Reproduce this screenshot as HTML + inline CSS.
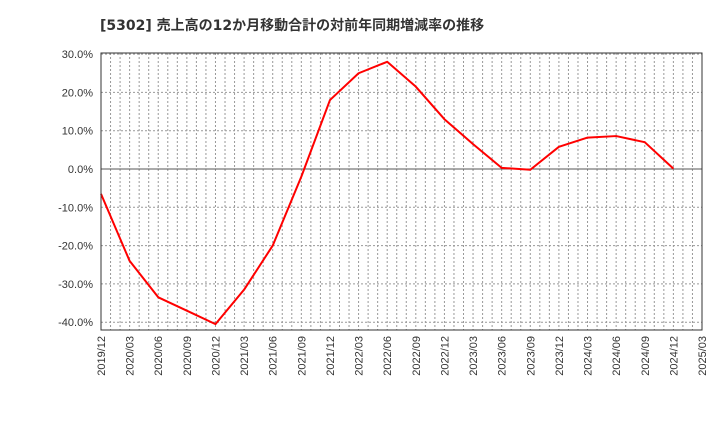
<!DOCTYPE html>
<html><head><meta charset="utf-8"><style>
body{margin:0;background:#fff;font-family:"Liberation Sans","Noto Sans CJK JP",sans-serif}
</style></head><body>
<svg width="720" height="440" xmlns="http://www.w3.org/2000/svg">
<text x="100" y="30" font-size="14" font-weight="bold" fill="#333" font-family="DejaVu Sans, Noto Sans CJK JP, sans-serif">[5302]  売上高の12か月移動合計の対前年同期増減率の推移</text>
<g id="grid"></g>
<g id="yt"></g>
<g id="xt"></g>
<polyline id="line" fill="none" stroke="#ff0000" stroke-width="2" stroke-linejoin="round"/>
<rect x="101" y="53" width="601" height="277" fill="none" stroke="#333"/>
</svg>
<script>
const categories=["2019/12","2020/03","2020/06","2020/09","2020/12","2021/03","2021/06","2021/09","2021/12","2022/03","2022/06","2022/09","2022/12","2023/03","2023/06","2023/09","2023/12","2024/03","2024/06","2024/09","2024/12"];
const values=[-6.5,-24,-33.5,-37,-40.5,-31.5,-20,-2,18,25,28,21.5,13,6.5,0.3,-0.2,5.8,8.2,8.6,7,0.1];
const yTicks=[30,20,10,0,-10,-20,-30,-40];
const xLabels=["2019/12","2020/03","2020/06","2020/09","2020/12","2021/03","2021/06","2021/09","2021/12","2022/03","2022/06","2022/09","2022/12","2023/03","2023/06","2023/09","2023/12","2024/03","2024/06","2024/09","2024/12","2025/03"];
const NS="http://www.w3.org/2000/svg";
const X0=101,QW=601/21;
const xs=i=>X0+i*QW;
const ys=v=>169-v*3.83;
const grid=document.getElementById('grid'),yt=document.getElementById('yt'),xt=document.getElementById('xt');
for(let m=1;m<63;m++){const l=document.createElementNS(NS,'line');


const x=X0+m*QW/3;l.setAttribute('x1',x);l.setAttribute('x2',x);l.setAttribute('y1',53);l.setAttribute('y2',330);
l.setAttribute('stroke','#999');l.setAttribute('stroke-dasharray','2,2');grid.appendChild(l);}
yTicks.forEach(v=>{const l=document.createElementNS(NS,'line');


l.setAttribute('x1',101);l.setAttribute('x2',702);l.setAttribute('y1',ys(v));l.setAttribute('y2',ys(v));
l.setAttribute('stroke',v===0?'#555':'#999');if(v!==0)l.setAttribute('stroke-dasharray','2,2');grid.appendChild(l);
const t=document.createElementNS(NS,'text');


t.setAttribute('x',93);t.setAttribute('y',ys(v)+4);t.setAttribute('text-anchor','end');t.setAttribute('font-size','11');t.setAttribute('fill','#333');
t.textContent=v.toFixed(1)+'%';yt.appendChild(t);});
xLabels.forEach((s,i)=>{const t=document.createElementNS(NS,'text');


const x=xs(i)+4;t.setAttribute('transform','translate('+x+',336) rotate(-90)');t.setAttribute('text-anchor','end');t.setAttribute('font-size','11');t.setAttribute('fill','#333');
t.textContent=s;xt.appendChild(t);});
document.getElementById('line').setAttribute('points',values.map((v,i)=>xs(i)+','+ys(v)).join(' '));
</script>
</body></html>
